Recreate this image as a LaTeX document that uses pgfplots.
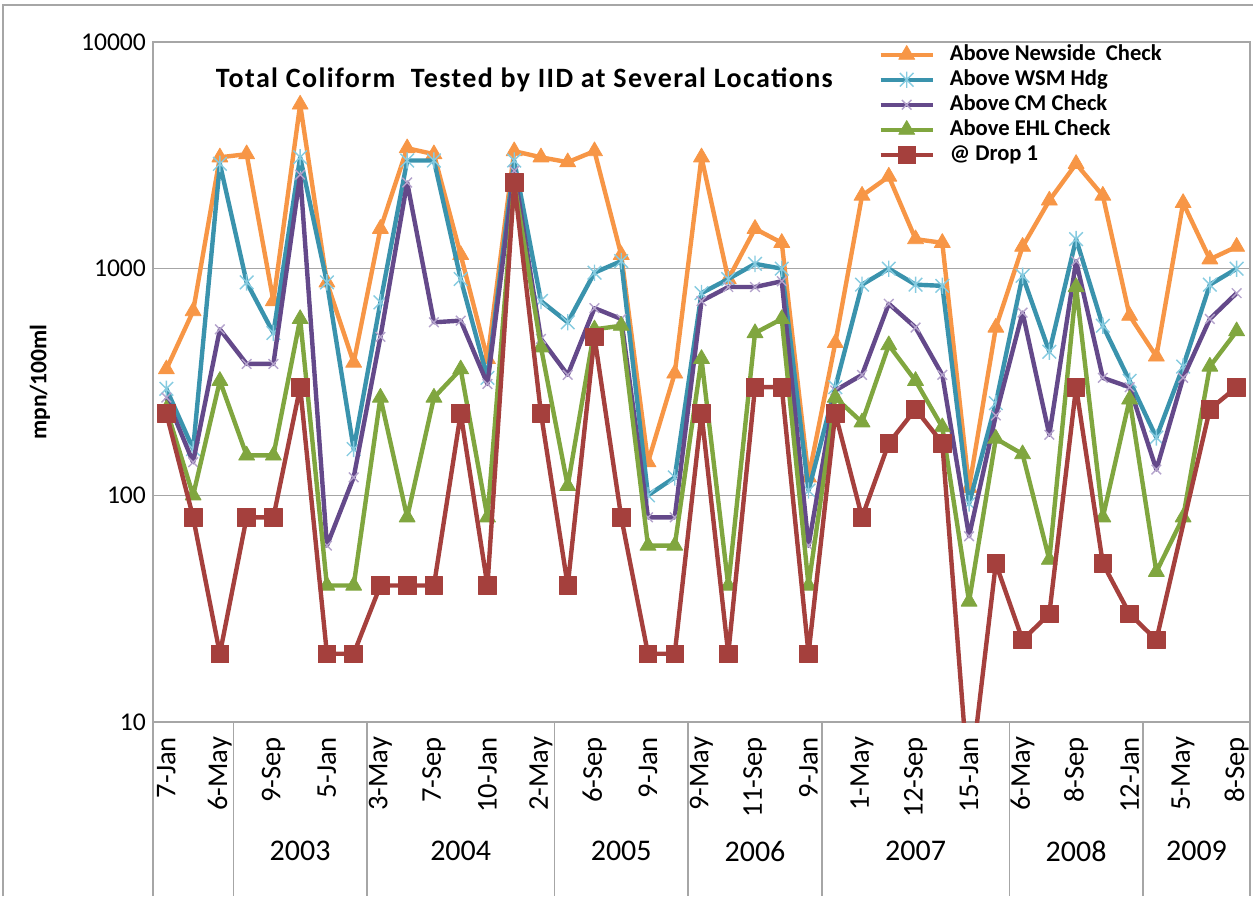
\documentclass[border=0pt]{standalone}
\usepackage{fontspec}
\setmainfont{Carlito}
\newfontfamily\titlefont[LetterSpace=5]{Carlito}
\usepackage{pgfplots}
\pgfplotsset{compat=1.18}
\definecolor{cOr}{HTML}{F79646}
\definecolor{cTe}{HTML}{3A93AD}
\definecolor{cTeL}{HTML}{86CBE0}
\definecolor{cPu}{HTML}{64498A}
\definecolor{cPuL}{HTML}{B4A3CC}
\definecolor{cGr}{HTML}{80A63F}
\definecolor{cRe}{HTML}{A5403D}
\definecolor{cAx}{HTML}{A6A6A6}
\pgfdeclareplotmark{xstar}{%
  \pgfpathmoveto{\pgfqpoint{-\pgfplotmarksize}{-\pgfplotmarksize}}%
  \pgfpathlineto{\pgfqpoint{\pgfplotmarksize}{\pgfplotmarksize}}%
  \pgfpathmoveto{\pgfqpoint{-\pgfplotmarksize}{\pgfplotmarksize}}%
  \pgfpathlineto{\pgfqpoint{\pgfplotmarksize}{-\pgfplotmarksize}}%
  \pgfpathmoveto{\pgfqpoint{0pt}{-1.2\pgfplotmarksize}}%
  \pgfpathlineto{\pgfqpoint{0pt}{1.2\pgfplotmarksize}}%
  \pgfusepathqstroke}
\newcommand{\xtfont}{\fontsize{14.3}{16}\selectfont}
\newcommand{\ytfont}{\fontsize{12.8}{15}\selectfont}
\newcommand{\legfont}{\fontsize{11.3}{13}\selectfont\bfseries}
\begin{document}
\begin{tikzpicture}
\path[use as bounding box] (-76.5pt,-87pt) rectangle (550pt,361pt);
\draw[cAx, line width=0.7pt] (-75pt,-87pt) -- (-75pt,358.5pt) -- (550pt,358.5pt);
\begin{axis}[
  at={(0,0)}, anchor=south west,
  scale only axis, width=548.5pt, height=340pt,
  ymode=log, ymin=10, ymax=10000,
  xmin=-0.5, xmax=40.5,
  xtick={0,2,...,40},
  xticklabels={7-Jan,6-May,9-Sep,5-Jan,3-May,7-Sep,10-Jan,2-May,6-Sep,9-Jan,9-May,11-Sep,9-Jan,1-May,12-Sep,15-Jan,6-May,8-Sep,12-Jan,5-May,8-Sep},
  xticklabel style={yshift=-4pt, rotate=90, anchor=east, font=\xtfont},
  ytick={10,100,1000,10000}, yticklabels={10,100,1000,10000},
  yticklabel style={font=\ytfont},
  yminorticks=false,
  major tick length=0pt,
  ymajorgrids, grid style={cAx, line width=0.7pt},
  axis line style={cAx, line width=0.7pt},
  clip marker paths=true,
  ylabel={mpn/100ml},
  ylabel style={at={(axis description cs:-0.103,0.5)}, anchor=center, font=\fontsize{11.8}{14}\selectfont\bfseries},
  legend style={at={(axis description cs:0.661,0.9995)}, anchor=north west, draw=none, fill=none, inner sep=0pt,
    font=\legfont, nodes={inner sep=0.5pt, text height=8.5pt, text depth=2.5pt}, row sep=0.5pt, column sep=7pt},
  legend cell align=left,
  legend image code/.code={\draw[#1, mark repeat=2, mark phase=2] plot coordinates {(0pt,0pt) (13pt,0pt) (26pt,0pt)};},
  every axis plot/.append style={line join=round},
]
\addplot[color=cOr, line width=2.2pt, mark=triangle*, mark size=4.6pt, mark options={solid, fill=cOr, draw=cOr, line width=0.4pt}] coordinates {
(0,360) (1,650) (2,3100) (3,3200) (4,720) (5,5300) (6,870) (7,385) (8,1500) (9,3400)
(10,3200) (11,1150) (12,400) (13,3300) (14,3100) (15,2950) (16,3300) (17,1150) (18,140) (19,345)
(20,3100) (21,900) (22,1500) (23,1300) (24,120) (25,470) (26,2100) (27,2550) (28,1350) (29,1300)
(30,108) (31,550) (32,1250) (33,2000) (34,2900) (35,2100) (36,620) (37,410) (38,1950) (39,1100) (40,1250)};
\addlegendentry{Above Newside\ \ Check}
\addplot[color=cTe, line width=2.2pt, mark=xstar, mark size=3.4pt, mark options={solid, draw=cTeL, line width=0.7pt}] coordinates {
(0,295) (1,160) (2,2900) (3,870) (4,520) (5,3100) (6,870) (7,160) (8,710) (9,3000)
(10,3000) (11,900) (12,330) (13,3000) (14,720) (15,580) (16,960) (17,1080) (18,100) (19,120)
(20,780) (21,900) (22,1050) (23,1000) (24,105) (25,300) (26,850) (27,1000) (28,850) (29,840)
(30,92) (31,255) (32,930) (33,430) (34,1350) (35,560) (36,320) (37,180) (38,370) (39,850) (40,1000)};
\addlegendentry{Above WSM Hdg}
\addplot[color=cPu, line width=2.2pt, mark=x, mark size=3.4pt, mark options={solid, draw=cPuL, line width=0.7pt}] coordinates {
(0,270) (1,140) (2,540) (3,380) (4,380) (5,2600) (6,60) (7,120) (8,500) (9,2400)
(10,580) (11,590) (12,310) (13,2700) (14,490) (15,340) (16,670) (17,600) (18,80) (19,80)
(20,720) (21,830) (22,830) (23,880) (24,60) (25,290) (26,340) (27,700) (28,550) (29,340)
(30,66) (31,225) (32,640) (33,185) (34,1080) (35,330) (36,300) (37,130) (38,330) (39,600) (40,780)};
\addlegendentry{Above CM Check}
\addplot[color=cGr, line width=2.2pt, mark=triangle*, mark size=4.6pt, mark options={solid, fill=cGr, draw=cGr, line width=0.4pt}] coordinates {
(0,240) (1,100) (2,320) (3,150) (4,150) (5,600) (6,40) (7,40) (8,270) (9,80)
(10,270) (11,360) (12,80) (13,2400) (14,450) (15,110) (16,540) (17,560) (18,60) (19,60)
(20,400) (21,40) (22,520) (23,600) (24,40) (25,270) (26,210) (27,460) (28,320) (29,200)
(30,34) (31,178) (32,152) (33,52) (34,830) (35,80) (36,265) (37,46) (38,80) (39,370) (40,530)};
\addlegendentry{Above EHL Check}
\addplot[color=cRe, line width=2.2pt, mark=square*, mark size=4.4pt, mark options={solid, fill=cRe, draw=cRe, line width=0.4pt}] coordinates {
(0,230) (1,80) (2,20) (3,80) (4,80) (5,300) (6,20) (7,20) (8,40) (9,40)
(10,40) (11,230) (12,40) (13,2400) (14,230) (15,40) (16,500) (17,80) (18,20) (19,20)
(20,230) (21,20) (22,300) (23,300) (24,20) (25,230) (26,80) (27,170) (28,240) (29,170)
(30,5) (31,50) (32,23) (33,30) (34,300) (35,50) (36,30) (37,23) (39,240) (40,300)};
\addlegendentry{@ Drop 1}
\node[font=\titlefont\fontsize{14}{16}\selectfont\bfseries, anchor=center] at (axis description cs:0.3385,0.945) {Total Coliform\ \ Tested by IID at Several Locations};
\end{axis}
\foreach \k in {0,3,8,15,20,25,32,37,41} {
  \draw[cAx, line width=0.7pt] ({\k*13.378pt},0pt) -- ({\k*13.378pt},-87pt);
}
\foreach \c/\y in {5.5/2003,11.5/2004,17.5/2005,22.5/2006,28.5/2007,34.5/2008,39/2009} {
  \node[font=\fontsize{15}{17}\selectfont, anchor=center] at ({\c*13.378pt},-64.5pt) {\y};
}
\end{tikzpicture}
\end{document}
